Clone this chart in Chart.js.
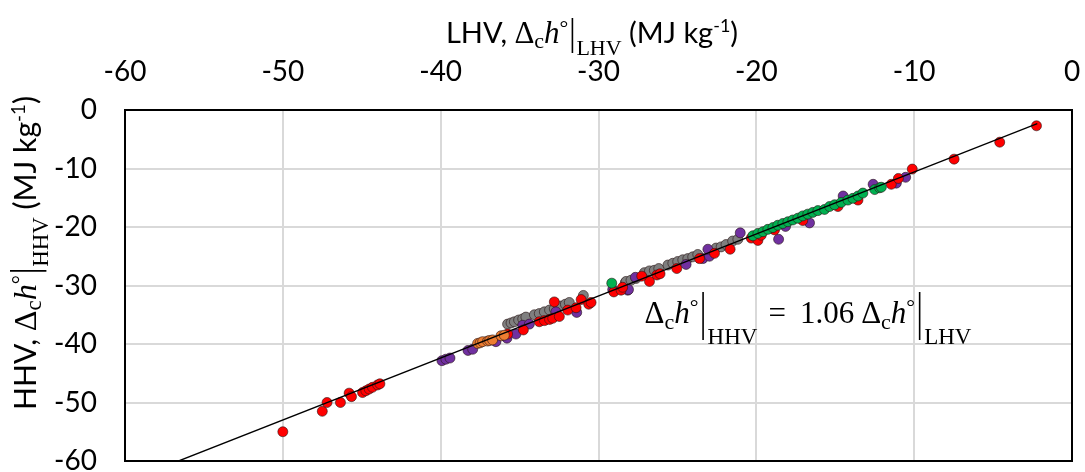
<!DOCTYPE html>
<html>
<head>
<meta charset="utf-8">
<script src="https://cdn.jsdelivr.net/npm/chart.js@4"></script>
<style>
  html, body { margin: 0; padding: 0; background: #fff; }
  #wrap { width: 1085px; height: 472px; }
</style>
</head>
<body>
<div id="wrap"><canvas id="chart" width="1085" height="472"></canvas></div>
<script>
// values (LHV on x, HHV on y, MJ/kg)
const xTicks = [-60, -50, -40, -30, -20, -10, 0];
const yTicks = [0, -10, -20, -30, -40, -50, -60];

const redX = [-50.0, -47.5, -47.2, -46.35, -45.8, -45.65, -44.95, -44.74, -44.53, -44.32, -44.0, -43.85,
  -35.76, -34.76, -33.75, -33.43, -33.1, -32.9, -32.48, -32.8, -31.95, -31.42, -31.1, -30.62, -30.47,
  -29.03, -28.57, -28.47, -26.77, -27.26, -26.3, -26.1, -25.04, -23.6, -22.65, -21.66, -20.32, -19.9,
  -19.69, -18.85, -17.06, -14.83, -13.56, -11.45, -11.0, -10.12, -7.47, -4.58, -2.25];
const redY = [-55.0, -51.5, -50.0, -50.0, -48.4, -49.0, -48.3, -48.0, -47.7, -47.4, -47.0, -46.8,
  -38.3, -37.6, -36.2, -36.0, -35.8, -35.6, -35.3, -32.8, -34.2, -33.8, -32.4, -33.2, -32.9,
  -31.1, -30.8, -30.3, -29.3, -28.4, -28.2, -28.0, -27.1, -25.4, -24.5, -23.8, -21.9, -22.3,
  -21.4, -20.5, -18.9, -16.5, -15.4, -12.7, -11.7, -10.1, -8.4, -5.5, -2.7];

const purpleX = [-39.92, -39.67, -39.41, -38.27, -37.97, -36.5, -35.8, -35.23, -34.8, -34.38, -32.7,
  -31.38, -28.15, -29.1, -28.1, -27.66, -24.45, -23.39, -22.97, -23.07, -21.02, -18.59, -18.15,
  -16.63, -14.5, -12.6, -11.13, -10.54];
const purpleY = [-42.85, -42.6, -42.4, -41.1, -40.9, -39.6, -39.0, -38.3, -36.8, -36.6, -34.5,
  -34.6, -30.8, -30.7, -30.7, -28.6, -26.4, -25.4, -25.0, -23.8, -21.0, -22.1, -19.9,
  -19.3, -14.7, -12.7, -12.5, -11.5];

const grayX = [-35.76, -35.54, -35.33, -35.06, -34.8, -34.6, -34.06, -33.75, -33.43, -33.1, -32.8,
  -32.37, -32.1, -31.85, -30.96, -28.3, -28.25, -27.94, -27.62, -27.09, -26.77, -26.46, -26.18,
  -25.6, -25.29, -24.98, -24.66, -24.34, -24.03, -23.71, -22.55, -22.23, -21.92, -21.5, -21.17];
const grayY = [-36.6, -36.4, -36.2, -35.9, -35.7, -35.4, -35.0, -34.8, -34.5, -34.2, -34.0,
  -33.5, -33.2, -32.9, -31.7, -29.5, -29.3, -29.1, -28.8, -27.8, -27.5, -27.4, -27.1,
  -26.5, -26.2, -25.9, -25.6, -25.4, -25.1, -24.7, -23.6, -23.4, -23.0, -22.4, -22.1];

const greenX = [-29.16, -20.22, -19.9, -19.58, -19.27, -18.95, -18.64, -18.32, -18.0, -17.69, -17.37,
  -17.06, -16.74, -16.42, -16.1, -15.68, -15.36, -15.04, -14.62, -14.2, -13.88, -13.56, -13.25,
  -12.5, -12.19, -12.08];
const greenY = [-29.6, -21.5, -21.1, -20.8, -20.4, -20.1, -19.7, -19.4, -19.1, -18.8, -18.5,
  -18.1, -17.8, -17.5, -17.2, -17.0, -16.5, -16.2, -15.8, -15.4, -15.1, -14.7, -14.2,
  -13.6, -13.3, -13.2];

const orangeX = [-37.66, -37.5, -37.34, -37.03, -36.9, -36.71, -36.18, -35.97];
const orangeY = [-39.9, -39.8, -39.6, -39.5, -39.4, -39.3, -38.6, -38.5];

const trendSlope = 1.06;
const trendX = [-56.6, -2.2];

const pts = (xs, ys) => xs.map((x, i) => ({ x, y: ys[i] }));

function dotSet(label, xs, ys, color) {
  return {
    label,
    data: pts(xs, ys),
    backgroundColor: color,
    borderColor: 'rgba(40,20,20,0.75)',
    borderWidth: 0.8,
    pointRadius: 5,
    pointHoverRadius: 5
  };
}

// rich text: segments with font, baseline shift, gaps and tall bars
function drawRich(ctx, segs, cx, baseY, color) {
  let total = 0;
  segs.forEach(s => {
    if (s.t !== undefined) { ctx.font = s.f; s.w = ctx.measureText(s.t).width; }
    else s.w = s.gap !== undefined ? s.gap : s.bw;
    total += s.w;
  });
  let x = cx - total / 2;
  ctx.fillStyle = color;
  ctx.strokeStyle = color;
  ctx.textBaseline = 'alphabetic';
  ctx.textAlign = 'left';
  segs.forEach(s => {
    if (s.t !== undefined) {
      ctx.font = s.f;
      ctx.fillText(s.t, x, baseY + (s.dy || 0));
    } else if (s.bar) {
      ctx.lineWidth = 1.6;
      ctx.beginPath();
      ctx.moveTo(x + s.bw / 2, baseY + s.bar[0]);
      ctx.lineTo(x + s.bw / 2, baseY + s.bar[1]);
      ctx.stroke();
    }
    x += s.w;
  });
}

const SERIF = "'Liberation Serif', 'DejaVu Serif', serif";
const SANS = "Lato, 'Open Sans', sans-serif";

function axisLabel(name, k) {
  return [
    { t: name + ', ', f: (29 * k) + 'px ' + SANS },
    { t: 'Δ', f: (31 * k) + 'px ' + SERIF },
    { t: 'c', f: (22 * k) + 'px ' + SERIF, dy: 5 * k },
    { t: 'h', f: 'italic ' + (31 * k) + 'px ' + SERIF },
    { t: '°', f: (22 * k) + 'px ' + SERIF, dy: -8 * k },
    { bar: [-25 * k, 10 * k], bw: 8 * k },
    { t: name, f: (22 * k) + 'px ' + SERIF, dy: 12 * k },
    { t: ' (MJ kg', f: (29 * k) + 'px ' + SANS },
    { t: '-1', f: (18 * k) + 'px ' + SANS, dy: -11 * k },
    { t: ')', f: (29 * k) + 'px ' + SANS }
  ];
}

function equation() {
  const part = sub => [
    { t: 'Δ', f: '31px ' + SERIF },
    { t: 'c', f: '22px ' + SERIF, dy: 6 },
    { t: 'h', f: 'italic 31px ' + SERIF },
    { t: '°', f: '22px ' + SERIF, dy: -9 },
    { bar: [-31, 17], bw: 9 },
    { t: sub, f: '23px ' + SERIF, dy: 21 }
  ];
  return [
    ...part('HHV'),
    { gap: 11 },
    { t: '=', f: '31px ' + SERIF },
    { gap: 14 },
    { t: trendSlope.toFixed(2), f: '31px ' + SERIF },
    { gap: 7 },
    ...part('LHV')
  ];
}

const noPad = s => { s.paddingLeft = 0; s.paddingRight = 0; s.paddingTop = 0; s.paddingBottom = 0; };

const decor = {
  id: 'decor',
  afterDraw(chart) {
    const { ctx, chartArea: a } = chart;
    ctx.save();
    // frame on the right and bottom
    ctx.strokeStyle = '#000';
    ctx.lineWidth = 2;
    ctx.strokeRect(a.left, a.top, a.right - a.left, a.bottom - a.top);

    drawRich(ctx, axisLabel('LHV', 1), 592, 43, '#000');

    ctx.save();
    ctx.translate(36, 253);
    ctx.rotate(-Math.PI / 2);
    drawRich(ctx, axisLabel('HHV', 1.04), 0, 0, '#000');
    ctx.restore();

    drawRich(ctx, equation(), 808, 323, '#000');
    ctx.restore();
  }
};

new Chart(document.getElementById('chart').getContext('2d'), {
  type: 'scatter',
  data: {
    datasets: [
      {
        label: 'fit',
        data: trendX.map(x => ({ x, y: trendSlope * x })),
        showLine: true,
        borderColor: '#000',
        borderWidth: 1.3,
        pointRadius: 0,
        fill: false
      },
      dotSet('green', greenX, greenY, '#00B050'),
      dotSet('orange', orangeX, orangeY, '#ED7D31'),
      dotSet('red', redX, redY, '#FF0000'),
      dotSet('purple', purpleX, purpleY, '#7030A0'),
      dotSet('gray', grayX, grayY, '#7F7F7F')
    ]
  },
  options: {
    responsive: false,
    animation: false,
    layout: { padding: { top: 0, left: 0, right: 13, bottom: 11 } },
    plugins: {
      legend: { display: false },
      tooltip: { enabled: false }
    },
    scales: {
      x: {
        type: 'linear',
        position: 'top',
        min: -60,
        max: 0,
        afterBuildTicks: s => { s.ticks = xTicks.map(v => ({ value: v })); },
        afterFit: s => { s.height = 110; noPad(s); },
        grid: { color: '#D9D9D9', lineWidth: 2, drawTicks: false },
        border: { color: '#000', width: 2 },
        ticks: { color: '#000', padding: 21, font: { family: 'Lato', size: 28 } }
      },
      y: {
        type: 'linear',
        min: -60,
        max: 0,
        afterBuildTicks: s => { s.ticks = yTicks.map(v => ({ value: v })); },
        afterFit: s => { s.width = 125; noPad(s); },
        grid: { color: '#D9D9D9', lineWidth: 2, drawTicks: false },
        border: { color: '#000', width: 2 },
        ticks: { color: '#000', padding: 28, font: { family: 'Lato', size: 28 } }
      }
    }
  },
  plugins: [decor]
});
</script>
</body>
</html>
